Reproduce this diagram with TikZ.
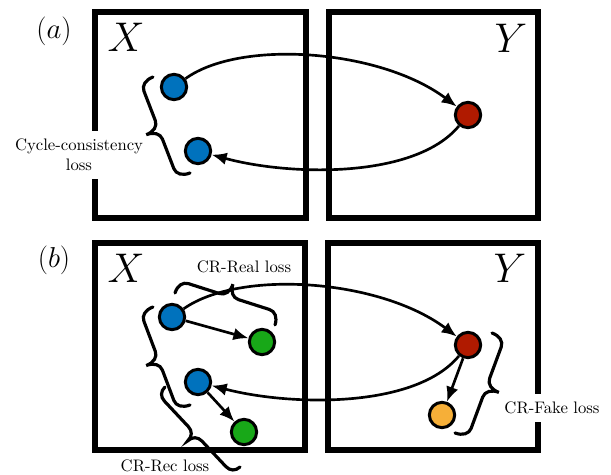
\documentclass[tikz,border=0pt]{standalone}
\usepackage{amsmath,amssymb}
\usepackage{xcolor}
\usepackage{tikz}
\usetikzlibrary{arrows.meta}

\definecolor{ptblue}{HTML}{0072BD}
\definecolor{ptred}{HTML}{B01A00}
\definecolor{ptgreen}{HTML}{18A818}
\definecolor{ptorange}{HTML}{F6AF38}

\tikzset{
    pics/curly/.style n args={2}{code={
        \draw[line width=1.9pt, line cap=round]
            (0,0) .. controls (0,{0.3*#2}) and (4,{0.5*#2}) .. (10,{0.5*#2})
            -- ({#1/2-10},{0.5*#2})
            .. controls ({#1/2-4},{0.5*#2}) and ({#1/2},{0.7*#2}) .. ({#1/2},#2)
            .. controls ({#1/2},{0.7*#2}) and ({#1/2+4},{0.5*#2}) .. ({#1/2+10},{0.5*#2})
            -- ({#1-10},{0.5*#2})
            .. controls ({#1-4},{0.5*#2}) and (#1,{0.3*#2}) .. (#1,0);
    }},
}

\begin{document}
\begin{tikzpicture}[
        x=0.6pt, y=0.6pt,
        panel/.style={draw, line width=3.2pt},
        pnt/.style={circle, draw, line width=1.8pt, minimum size=15.2pt, inner sep=0pt},
        arr/.style={-{Latex[length=9pt, width=7.5pt]}, line width=1.6pt},
        lbl/.style={font=\fontsize{34}{34}\selectfont},
        tag/.style={font=\fontsize{16}{16}\selectfont},
        loss/.style={align=center, font=\normalsize},
    ]
        \useasboundingbox (0,0) rectangle (611,474);

        \draw[panel] (95,256) rectangle (306,462);
        \draw[panel] (329,256) rectangle (538,462);
        \draw[panel] (95,24) rectangle (305,231);
        \draw[panel] (328,24) rectangle (538,231);

        \node[tag] (taga) at (54,443) {$(a)$};
        \node[tag] (tagb) at (54,214) {$(b)$};
        \node[lbl] (Xa) at (126,437) {$X$};
        \node[lbl] (Ya) at (511,436) {$Y$};
        \node[lbl] (Xb) at (126,206) {$X$};
        \node[lbl] (Yb) at (510,206) {$Y$};

        \node[loss, fill=white, inner sep=5pt] (cyc) at (79,319) {Cycle-consistency\\loss};
        \node[loss, fill=white, inner sep=5pt] (fake) at (552,66) {CR-Fake loss};
        \node[loss] (real) at (244,207) {CR-Real loss};
        \node[loss] (rec) at (165,8) {CR-Rec loss};

        % braces
        \pic[rotate=111.1] at (190,301) {curly={102.9}{27}};
        \pic[rotate=110.7] at (190,69) {curly={104.8}{27}};
        \pic[rotate=133.2] at (240,7) {curly={109.7}{20}};
        \pic[rotate=-17.7] at (175,181) {curly={105}{26}};
        \pic[rotate=-110.3] at (492,141) {curly={106.6}{27}};

        \node[pnt, fill=ptblue] (xa1) at (174,387) {};
        \node[pnt, fill=ptblue] (xa2) at (198,323) {};
        \node[pnt, fill=ptred] (ya) at (468,359) {};
        \node[pnt, fill=ptblue] (xb1) at (172,157) {};
        \node[pnt, fill=ptgreen] (gb1) at (262,132) {};
        \node[pnt, fill=ptblue] (xb2) at (198,92) {};
        \node[pnt, fill=ptgreen] (gb2) at (244,42) {};
        \node[pnt, fill=ptred] (yb) at (468,129) {};
        \node[pnt, fill=ptorange] (ob) at (442,59) {};

        \draw[arr] (xa1) .. controls (240,435) and (380,425) .. (ya);
        \draw[arr] (ya) .. controls (415,295) and (290,298) .. (xa2);
        \draw[arr] (xb1) .. controls (240,205) and (380,195) .. (yb);
        \draw[arr] (yb) .. controls (415,65) and (290,68) .. (xb2);
        \draw[arr] (xb1) -- (gb1);
        \draw[arr] (xb2) -- (gb2);
        \draw[arr] (yb) -- (ob);
    \end{tikzpicture}
\end{document}
